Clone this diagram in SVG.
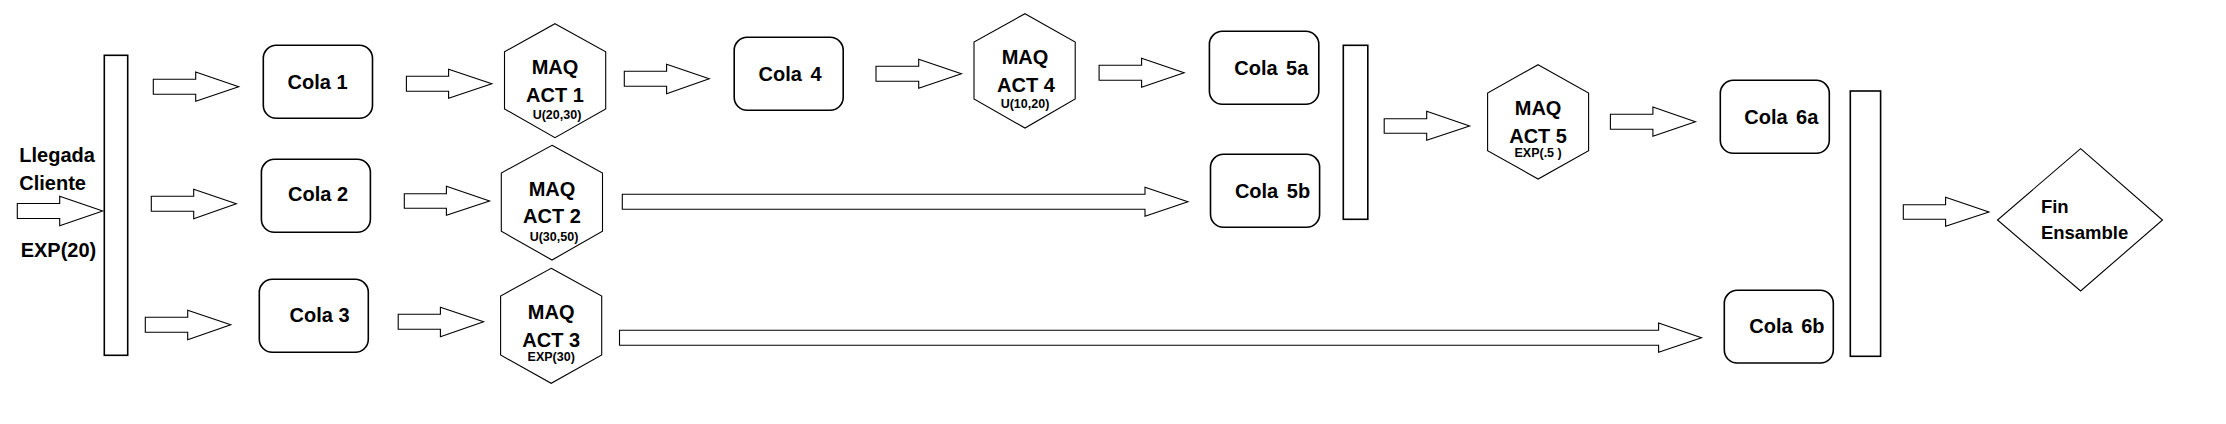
<svg xmlns="http://www.w3.org/2000/svg" width="2226" height="424" viewBox="0 0 2226 424">
<style>
text{font-family:"Liberation Sans",Arial,sans-serif;font-weight:bold;fill:#000}
.big{font-size:20px}
.sm{font-size:12.5px}
.m{text-anchor:middle}
.ws{word-spacing:3px}
.fin{font-size:18.5px}
.box{fill:#fff;stroke:#000;stroke-width:1.6}
.hex{fill:#fff;stroke:#000;stroke-width:1.1}
.bar{fill:#fff;stroke:#000;stroke-width:1.6}
.arr{fill:#fff;stroke:#000;stroke-width:1.1;stroke-linejoin:miter}
</style>
<rect width="2226" height="424" fill="#fff"/>
<g id="connectors">
<polygon class="arr" points="17.3,203.5 59.7,203.5 59.7,196.3 102.7,211 59.7,225.7 59.7,218.5 17.3,218.5"/>
<polygon class="arr" points="153.3,79.3 195.7,79.3 195.7,72 238.7,86.8 195.7,101.3 195.7,94.3 153.3,94.3"/>
<polygon class="arr" points="151.3,196.3 193.7,196.3 193.7,189.3 236.3,203.8 193.7,218.7 193.7,211.3 151.3,211.3"/>
<polygon class="arr" points="145.3,317.3 187.7,317.3 187.7,310.3 230.7,324.8 187.7,339.7 187.7,332.3 145.3,332.3"/>
<polygon class="arr" points="406.4,76.3 448.6,76.3 448.6,69.3 491.8,83.8 448.6,98.3 448.6,91.3 406.4,91.3"/>
<polygon class="arr" points="404.3,193.7 446.4,193.7 446.4,186.3 489.6,201 446.4,215.3 446.4,208.3 404.3,208.3"/>
<polygon class="arr" points="398.2,314.3 440.4,314.3 440.4,307.3 483.6,321.8 440.4,336.7 440.4,329.3 398.2,329.3"/>
<polygon class="arr" points="624.3,71.3 666.6,71.3 666.6,64.3 709.2,78.8 666.6,93.7 666.6,86.3 624.3,86.3"/>
<polygon class="arr" points="876,66.3 918.7,66.3 918.7,59.3 961.4,73.8 918.7,88.3 918.7,81.3 876,81.3"/>
<polygon class="arr" points="1099.1,65.3 1141.6,65.3 1141.6,58.3 1184.1,72.8 1141.6,87.3 1141.6,80.3 1099.1,80.3"/>
<polygon class="arr" points="622.3,194.3 1145,194.3 1145,187.3 1187.9,201.8 1145,216.3 1145,209.3 622.3,209.3"/>
<polygon class="arr" points="1384.2,118.7 1426.7,118.7 1426.7,111.3 1469.6,126 1426.7,140.3 1426.7,133.3 1384.2,133.3"/>
<polygon class="arr" points="1610.4,114.3 1652.9,114.3 1652.9,107 1695.4,121.8 1652.9,136.3 1652.9,129.3 1610.4,129.3"/>
<polygon class="arr" points="619.5,330.3 1658.6,330.3 1658.6,323 1701.5,337.8 1658.6,352.3 1658.6,345.3 619.5,345.3"/>
<polygon class="arr" points="1903.3,204.7 1945.6,204.7 1945.6,197.3 1988.9,212 1945.6,226.3 1945.6,219.3 1903.3,219.3"/>
</g>
<g id="llegada">
<text class="big" x="19.3" y="162">Llegada</text>
<text class="big" x="19.3" y="190">Cliente</text>
<text class="big" x="20.7" y="257">EXP(20)</text>
</g>
<g id="bar1"><rect class="bar" x="104.3" y="55.3" width="23.4" height="300"/></g>
<g id="cola1"><rect class="box" x="263.3" y="45.3" width="109.2" height="73" rx="13"/><text class="big m" x="317.5" y="89">Cola 1</text></g>
<g id="cola2"><rect class="box" x="261.4" y="159.3" width="109" height="73" rx="13"/><text class="big m" x="318" y="201.3">Cola 2</text></g>
<g id="cola3"><rect class="box" x="259.3" y="279.3" width="109" height="73" rx="13"/><text class="big m" x="319.5" y="321.7">Cola 3</text></g>
<g id="act1"><polygon class="hex" points="555,23.7 605.7,51.7 605.7,109 555,137.7 504.5,109 504.5,51.7"/>
<text class="big m" x="555" y="74">MAQ</text><text class="big m" x="555" y="101.7">ACT 1</text><text class="sm m" x="557" y="119.3">U(20,30)</text></g>
<g id="act2"><polygon class="hex" points="552,145.3 602.5,173 602.5,231.3 552,260 501.3,231.3 501.3,173"/>
<text class="big m" x="552" y="196">MAQ</text><text class="big m" x="552" y="223.3">ACT 2</text><text class="sm m" x="554" y="240.7">U(30,50)</text></g>
<g id="act3"><polygon class="hex" points="551.2,268.3 601.7,296 601.7,355 551.2,383.3 500.6,355 500.6,296"/>
<text class="big m" x="551.2" y="319.3">MAQ</text><text class="big m" x="551.2" y="346.7">ACT 3</text><text class="sm m" x="551.2" y="361">EXP(30)</text></g>
<g id="cola4"><rect class="box" x="734.2" y="37.3" width="109" height="73" rx="13"/><text class="big m ws" x="790" y="81">Cola 4</text></g>
<g id="act4"><polygon class="hex" points="1025,13.7 1075.2,42 1075.2,99 1025,128 974,99 974,42"/>
<text class="big m" x="1025" y="64">MAQ</text><text class="big m" x="1026" y="91.7">ACT 4</text><text class="sm m" x="1025" y="108.3">U(10,20)</text></g>
<g id="cola5a"><rect class="box" x="1209.4" y="31.3" width="109.4" height="73" rx="13"/><text class="big m ws" x="1271.3" y="74.7">Cola 5a</text></g>
<g id="cola5b"><rect class="box" x="1210.5" y="154.3" width="109.1" height="73" rx="13"/><text class="big m ws" x="1272.5" y="198.3">Cola 5b</text></g>
<g id="bar2"><rect class="bar" x="1343.3" y="45.3" width="24.5" height="174"/></g>
<g id="act5"><polygon class="hex" points="1538.1,64.7 1588.6,93 1588.6,150.7 1538.1,179 1487.6,150.7 1487.6,93"/>
<text class="big m" x="1538.1" y="115">MAQ</text><text class="big m" x="1538.1" y="142.7">ACT 5</text><text class="sm m" x="1538.1" y="157.3">EXP(.5 )</text></g>
<g id="cola6a"><rect class="box" x="1720.3" y="80.3" width="109" height="73" rx="13"/><text class="big m ws" x="1781.3" y="124">Cola 6a</text></g>
<g id="cola6b"><rect class="box" x="1724.3" y="290.3" width="109" height="72.7" rx="13"/><text class="big m ws" x="1786.9" y="333.3">Cola 6b</text></g>
<g id="bar3"><rect class="bar" x="1850.3" y="91" width="30.3" height="265.3"/></g>
<g id="fin"><polygon class="hex" points="2080.6,148.7 2162.5,220 2080.6,291 1997.5,220"/>
<text class="fin" x="2040.9" y="212.7">Fin</text><text class="fin" x="2040.9" y="239.3">Ensamble</text></g>
</svg>
